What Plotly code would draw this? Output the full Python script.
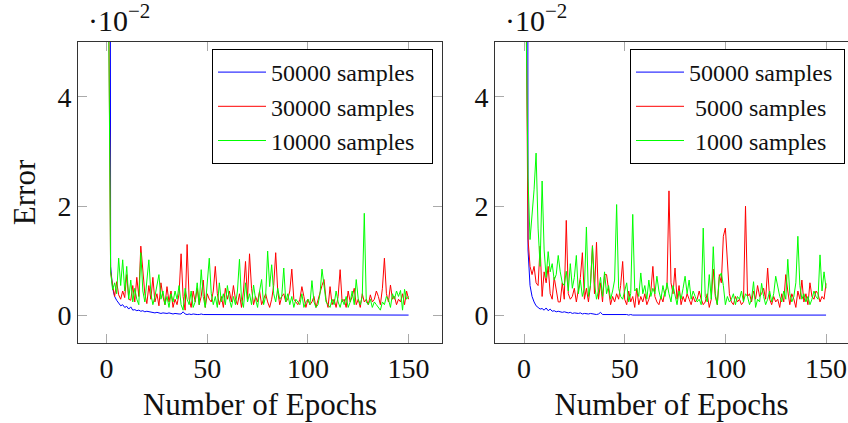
import plotly.graph_objects as go

epochs = list(range(1, 151))

# Left panel (values in units of 1e-2)
left_50000 = [42.0, 0.90, 0.50, 0.35, 0.28, 0.22, 0.18, 0.20, 0.15, 0.17,
              0.12, 0.16, 0.10, 0.11, 0.09, 0.10, 0.08, 0.09, 0.07, 0.08,
              0.07, 0.06, 0.06, 0.05, 0.06, 0.05, 0.04, 0.05, 0.04, 0.04,
              0.05, 0.04, 0.03, 0.04, 0.03, 0.03, 0.03, 0.07, 0.03, 0.02,
              0.03, 0.02, 0.03, 0.02, 0.02, 0.02, 0.03, 0.02, 0.02, 0.02,
              0.02, 0.01, 0.02, 0.01, 0.02, 0.01, 0.01, 0.02, 0.01, 0.01,
              0.01, 0.01, 0.01, 0.01, 0.01, 0.01, 0.01, 0.01, 0.01, 0.01,
              0.01, 0.01, 0.01, 0.01, 0.01, 0.01, 0.01, 0.01, 0.01, 0.01,
              0.01, 0.01, 0.01, 0.01, 0.01, 0.01, 0.01, 0.01, 0.01, 0.01,
              0.01, 0.01, 0.01, 0.01, 0.01, 0.01, 0.01, 0.01, 0.01, 0.01,
              0.01, 0.01, 0.01, 0.01, 0.01, 0.01, 0.01, 0.01, 0.01, 0.01,
              0.01, 0.01, 0.01, 0.01, 0.01, 0.01, 0.01, 0.01, 0.01, 0.01,
              0.01, 0.01, 0.01, 0.01, 0.01, 0.01, 0.01, 0.01, 0.01, 0.01,
              0.01, 0.01, 0.01, 0.01, 0.01, 0.01, 0.01, 0.01, 0.01, 0.01,
              0.01, 0.01, 0.01, 0.01, 0.01, 0.01, 0.01, 0.01, 0.01, 0.01]

left_30000 = [6.0, 0.80, 0.55, 0.35, 0.62, 0.38, 0.30, 0.45, 0.33, 0.75,
              0.30, 0.28, 0.55, 0.25, 0.70, 0.35, 1.27, 0.80, 0.40, 0.22,
              0.55, 0.30, 0.70, 0.25, 0.40, 0.18, 0.60, 0.35, 0.20, 0.53,
              0.25, 0.45, 0.15, 0.30, 0.20, 0.40, 1.13, 0.35, 0.10, 1.30,
              0.30, 0.15, 0.45, 0.25, 0.50, 0.20, 0.35, 0.65, 0.15, 0.40,
              0.30, 0.25, 0.45, 0.90, 0.40, 0.20, 0.35, 0.15, 0.50, 0.30,
              0.45, 0.25, 0.55, 0.30, 0.20, 0.40, 0.15, 0.45, 0.99, 0.30,
              1.13, 0.50, 0.20, 0.35, 0.25, 0.45, 0.20, 0.30, 0.40, 0.25,
              0.15, 0.30, 0.55, 1.15, 0.45, 0.20, 0.35, 0.40, 0.25, 0.30,
              0.45, 0.85, 0.30, 0.25, 0.20, 0.30, 0.53, 0.35, 0.15, 0.30,
              0.20, 0.25, 0.35, 0.15, 0.30, 0.45, 0.55, 0.66, 0.30, 0.15,
              0.53, 0.20, 0.30, 0.15, 0.35, 0.84, 0.25, 0.30, 0.15, 0.45,
              0.25, 0.35, 0.50, 0.20, 0.30, 0.15, 0.40, 0.25, 0.30, 0.20,
              0.38, 0.25, 0.30, 0.45, 0.35, 0.20, 0.50, 1.05, 0.40, 0.25,
              0.56, 0.30, 0.35, 0.20, 0.30, 0.25, 0.40, 0.20, 0.45, 0.30]

left_10000 = [5.6, 0.80, 0.47, 0.60, 0.40, 1.05, 0.55, 1.02, 0.45, 0.90,
              0.30, 0.65, 0.25, 0.50, 0.30, 0.20, 1.15, 0.45, 0.25, 0.60,
              1.02, 0.40, 0.20, 0.35, 0.55, 0.75, 0.30, 0.45, 0.20, 0.35,
              0.15, 0.40, 0.25, 0.45, 0.30, 0.55, 0.20, 0.10, 0.50, 0.30,
              0.20, 0.45, 0.15, 0.25, 0.60, 0.20, 0.84, 0.35, 0.15, 0.70,
              1.05, 0.40, 0.20, 0.35, 0.15, 0.60, 0.25, 0.40, 0.20, 0.55,
              0.30, 0.15, 0.35, 0.20, 0.45, 1.03, 0.30, 0.15, 0.60, 0.25,
              0.40, 0.20, 0.56, 0.30, 0.15, 0.45, 0.66, 0.20, 0.35, 1.18,
              0.53, 0.93, 0.40, 0.25, 0.50, 0.30, 0.35, 0.87, 0.25, 0.40,
              0.20, 0.35, 0.15, 0.30, 0.25, 0.20, 0.40, 0.15, 0.25, 0.30,
              0.20, 0.64, 0.25, 0.15, 0.20, 0.40, 0.85, 0.50, 0.25, 0.20,
              0.15, 0.30, 0.20, 0.45, 0.25, 0.15, 0.30, 0.20, 0.35, 0.15,
              0.25, 0.45, 0.20, 0.66, 0.30, 0.20, 0.35, 1.87, 0.25, 0.20,
              0.30, 0.15, 0.25, 0.20, 0.15, 0.10, 0.25, 0.20, 0.35, 0.30,
              0.15, 0.40, 0.30, 0.45, 0.35, 0.46, 0.10, 0.48, 0.30, 0.35]

# Right panel (values in units of 1e-2)
right_50000 = [50.0, 1.20, 0.55, 0.35, 0.25, 0.18, 0.15, 0.12, 0.13, 0.10,
               0.14, 0.09, 0.12, 0.08, 0.09, 0.07, 0.08, 0.07, 0.06, 0.07,
               0.06, 0.05, 0.06, 0.04, 0.05, 0.04, 0.04, 0.05, 0.03, 0.04,
               0.03, 0.03, 0.04, 0.03, 0.03, 0.02, 0.03, 0.06, 0.02, 0.02,
               0.03, 0.02, 0.02, 0.02, 0.02, 0.02, 0.02, 0.02, 0.02, 0.02,
               0.02, 0.01, 0.02, 0.01, 0.01, 0.01, 0.01, 0.01, 0.01, 0.01,
               0.01, 0.01, 0.01, 0.01, 0.01, 0.01, 0.01, 0.01, 0.01, 0.01,
               0.01, 0.01, 0.01, 0.01, 0.01, 0.01, 0.01, 0.01, 0.01, 0.01,
               0.01, 0.01, 0.01, 0.01, 0.01, 0.01, 0.01, 0.01, 0.01, 0.01,
               0.01, 0.01, 0.01, 0.01, 0.01, 0.01, 0.01, 0.01, 0.01, 0.01,
               0.01, 0.01, 0.01, 0.01, 0.01, 0.01, 0.01, 0.01, 0.01, 0.01,
               0.01, 0.01, 0.01, 0.01, 0.01, 0.01, 0.01, 0.01, 0.01, 0.01,
               0.01, 0.01, 0.01, 0.01, 0.01, 0.01, 0.01, 0.01, 0.01, 0.01,
               0.01, 0.01, 0.01, 0.01, 0.01, 0.01, 0.01, 0.01, 0.01, 0.01,
               0.01, 0.01, 0.01, 0.01, 0.01, 0.01, 0.01, 0.01, 0.01, 0.01]

right_5000 = [6.0, 1.40, 0.90, 0.75, 0.90, 0.60, 0.55, 1.27, 0.35, 0.80,
              0.60, 0.90, 0.40, 0.30, 0.70, 0.45, 0.25, 0.25, 0.60, 0.30,
              1.74, 0.40, 0.30, 0.35, 0.50, 0.25, 0.45, 0.70, 1.15, 0.30,
              0.50, 0.25, 0.55, 1.28, 0.40, 1.34, 0.30, 0.60, 0.25, 0.75,
              0.75, 0.45, 0.20, 0.35, 0.25, 0.40, 0.30, 0.55, 0.99, 0.30,
              0.20, 0.45, 0.25, 0.35, 0.15, 0.50, 0.20, 0.35, 0.25, 0.40,
              0.20, 0.30, 0.45, 0.90, 0.35, 0.25, 0.20, 0.35, 0.25, 0.45,
              0.50, 2.28, 0.60, 0.40, 0.87, 0.30, 0.55, 0.20, 0.35, 0.25,
              0.40, 0.30, 0.20, 0.35, 0.25, 0.30, 0.45, 0.30, 0.20, 0.25,
              0.40, 0.15, 0.30, 0.85, 0.35, 0.20, 0.75, 0.60, 1.45, 1.60,
              0.90, 0.40, 0.25, 0.20, 0.35, 0.25, 0.30, 0.20, 0.25, 2.00,
              0.35, 0.40, 0.25, 0.45, 0.30, 0.55, 0.35, 0.40, 0.50, 0.30,
              0.87, 0.30, 0.20, 0.35, 0.25, 0.30, 0.15, 0.40, 0.25, 0.75,
              0.45, 0.20, 0.40, 0.30, 0.15, 0.45, 0.30, 0.65, 0.25, 0.40,
              0.20, 0.60, 0.35, 0.30, 0.45, 0.40, 0.25, 0.35, 0.30, 0.59]

right_1000 = [5.6, 2.50, 1.39, 1.80, 2.30, 2.97, 1.60, 0.90, 2.46, 1.20,
              0.70, 1.17, 0.80, 0.95, 0.65, 0.75, 1.10, 0.80, 0.60, 0.55,
              0.81, 0.45, 0.95, 0.50, 0.70, 1.10, 0.40, 0.65, 0.35, 0.50,
              1.62, 0.35, 0.55, 1.27, 0.60, 0.30, 0.45, 0.70, 0.35, 0.80,
              0.40, 0.55, 0.30, 0.45, 0.65, 2.03, 0.50, 0.35, 0.30, 0.45,
              0.60, 0.25, 0.40, 1.85, 0.45, 0.50, 0.35, 0.78, 0.40, 0.55,
              0.30, 0.65, 0.35, 0.50, 0.40, 0.72, 0.45, 0.30, 0.55, 0.35,
              0.60, 0.40, 0.25, 0.55, 0.35, 0.20, 0.45, 0.30, 0.50, 0.72,
              0.40, 0.65, 0.30, 0.45, 0.35, 0.25, 0.30, 0.20, 1.60, 0.35,
              0.25, 0.75, 0.30, 1.26, 0.40, 0.20, 0.70, 0.78, 0.55, 0.20,
              0.35, 0.25, 0.30, 0.40, 0.20, 0.35, 0.30, 0.45, 0.25, 0.40,
              0.35, 0.20, 0.30, 0.62, 0.15, 0.30, 0.25, 0.59, 0.35, 0.20,
              0.30, 0.45, 0.25, 0.40, 0.72, 0.50, 0.35, 0.25, 0.45, 0.30,
              1.03, 0.40, 0.25, 0.35, 0.60, 1.45, 0.55, 0.30, 0.40, 0.25,
              0.35, 0.20, 0.30, 0.45, 0.35, 0.30, 1.11, 0.45, 0.80, 0.50]

left_names = ["50000 samples\u2002", "30000 samples\u2002", "10000 samples\u2002"]
right_names = ["50000 samples\u2005", "\u20055000 samples\u2005", "\u20051000 samples\u2005"]
colors = ["#0000ff", "#ff0000", "#00ff00"]

x_ticks = [0, 50, 100, 150]
y_ticks = [0, 2, 4]
y_tick_labels = ["0", "2", "4"]

FONT = "Liberation Serif"
W, H = 848, 423

fig = go.Figure()
for name, vals, col in zip(left_names, [left_50000, left_30000, left_10000], colors):
    fig.add_trace(go.Scatter(x=epochs, y=vals, mode="lines", name=name,
                             line=dict(color=col, width=1), xaxis="x", yaxis="y",
                             legend="legend"))
for name, vals, col in zip(right_names, [right_50000, right_5000, right_1000], colors):
    fig.add_trace(go.Scatter(x=epochs, y=vals, mode="lines", name=name,
                             line=dict(color=col, width=1), xaxis="x2", yaxis="y2",
                             legend="legend2"))

ydom = [(H - 343) / H, (H - 42) / H]
common_x = dict(showline=True, linecolor="#333", linewidth=1, mirror="ticks",
                ticks="inside", ticklen=9, tickcolor="#aaa", tickwidth=1,
                showgrid=False, zeroline=False, tickvals=x_ticks, automargin=False,
                tickfont=dict(family=FONT, size=28, color="#111"),
                title=dict(text="Number of Epochs", font=dict(family=FONT, size=31, color="#111"),
                           standoff=10))
common_y = dict(showline=True, linecolor="#333", linewidth=1,
                ticks="inside", ticklen=9, tickcolor="#aaa", tickwidth=1,
                showgrid=False, zeroline=False, tickvals=y_ticks, ticktext=y_tick_labels,
                automargin=False,
                range=[-0.5, 5], tickfont=dict(family=FONT, size=28, color="#111"))

leg_common = dict(xanchor="right", yanchor="top", bgcolor="white", bordercolor="#000",
                  borderwidth=1, font=dict(family=FONT, size=24, color="#111"),
                  tracegroupgap=0, itemwidth=48)

fig.update_layout(
    width=W, height=H,
    margin=dict(l=0, r=0, t=0, b=0),
    paper_bgcolor="white", plot_bgcolor="white",
    xaxis=dict(domain=[78 / W, 442 / W], range=[-14.2, 166.6], anchor="y", **common_x),
    yaxis=dict(domain=ydom, anchor="x", mirror="ticks",
               title=dict(text="Error", font=dict(family=FONT, size=31, color="#111"), standoff=12),
               **common_y),
    xaxis2=dict(domain=[495 / W, 1.0], range=[-14.4, 160.9], anchor="y2", **common_x),
    yaxis2=dict(domain=ydom, anchor="x2", mirror=False, **common_y),
    legend=dict(x=433 / W, y=(H - 49) / H, **leg_common),
    legend2=dict(x=845 / W, y=(H - 49) / H, **leg_common),
    showlegend=True,
)

for xpos in [86 / W, 503 / W]:
    fig.add_annotation(text="\u00b710<sup>\u22122</sup>", xref="paper", yref="paper",
                       x=xpos, y=1.0, xanchor="left", yanchor="top", showarrow=False,
                       yshift=3, font=dict(family=FONT, size=30, color="#111"))

fig.write_html("out.html", config={"displayModeBar": False},
               post_script="document.body.style.margin='0';document.body.style.overflow='hidden';")
